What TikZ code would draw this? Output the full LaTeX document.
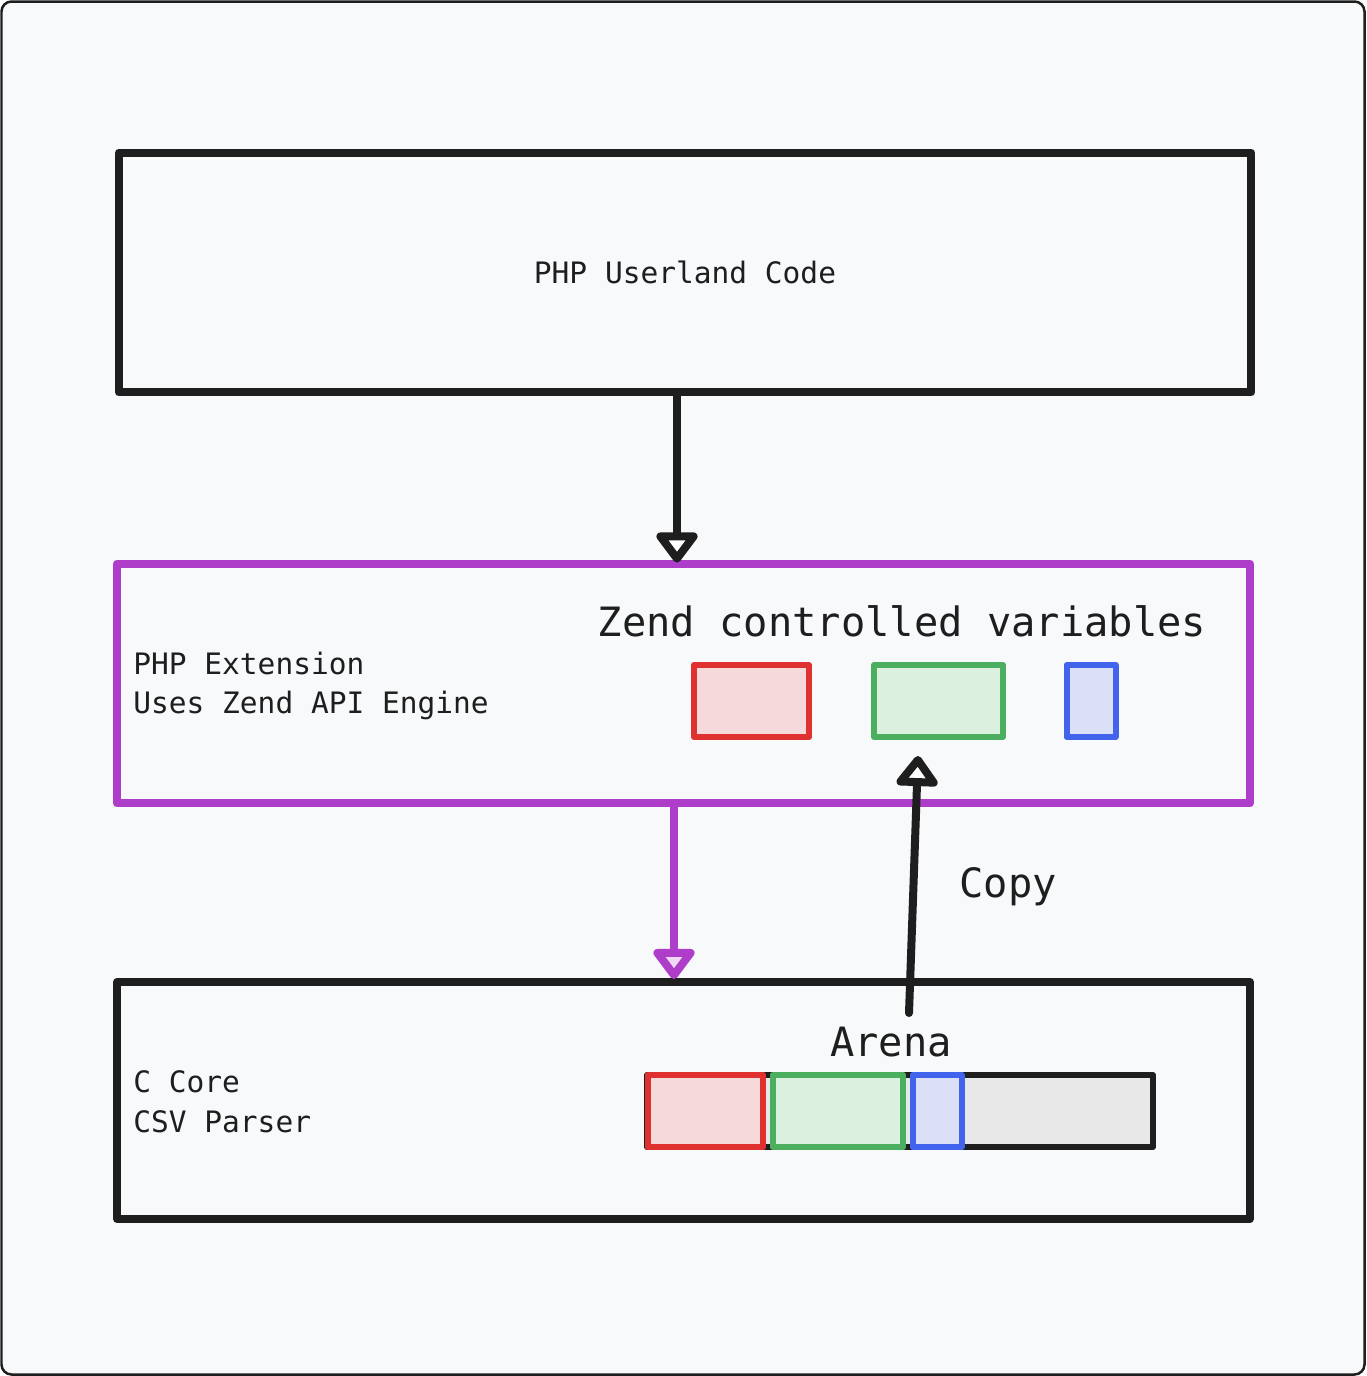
\documentclass[tikz,border=0pt]{standalone}
\usepackage{fontspec}
\setmonofont{DejaVu Sans Mono}
\usetikzlibrary{arrows.meta}
\definecolor{ink}{HTML}{1E1E1E}
\definecolor{canvas}{HTML}{F8F9FB}
\definecolor{extviolet}{HTML}{AE3EC9}
\definecolor{varred}{HTML}{E03131}
\definecolor{varredbg}{HTML}{F6D9DA}
\definecolor{vargreen}{HTML}{4CAF60}
\definecolor{vargreenbg}{HTML}{DCF0E0}
\definecolor{varblue}{HTML}{4263EB}
\definecolor{varbluebg}{HTML}{DCE0F6}
\definecolor{arenabg}{HTML}{E8E8E8}
\tikzset{
  small/.style={font=\ttfamily\fontsize{16.8}{22.7}\selectfont, text=ink},
  big/.style  ={font=\ttfamily\fontsize{23}{27}\selectfont, text=ink},
  layer/.style={rectangle, draw=ink, line width=0.16cm, line join=round,
                minimum width=22.66cm, minimum height=4.8cm, inner sep=0pt, small},
  slot/.style ={rectangle, line width=0.12cm, line join=round,
                minimum height=1.44cm, inner sep=0pt},
  redslot/.style  ={slot, draw=varred,   fill=varredbg},
  greenslot/.style={slot, draw=vargreen, fill=vargreenbg},
  blueslot/.style ={slot, draw=varblue,  fill=varbluebg},
  flow/.style ={draw=ink, line width=0.16cm, line cap=round,
                -{Triangle[fill=white, length=6.6mm, width=9.4mm, round]}},
  vflow/.style={flow, draw=extviolet,
                -{Triangle[fill=extviolet!20, length=6.6mm, width=9.4mm, round]}},
}
\begin{document}
\begin{tikzpicture}[x=0.02cm, y=-0.02cm]
\useasboundingbox (0,0) rectangle (1366,1376);
\draw[ink, fill=canvas, line width=0.05cm, rounded corners=0.2cm] (1.5,1.5) rectangle (1364.5,1374.5);
% layers
\node[layer] (user) at (685,272.5) {PHP Userland Code};
\node[layer, draw=extviolet] (ext) at (683.5,683.5) {};
\node[layer, minimum height=4.74cm] (core) at (683.5,1100.5) {};
\node[small, anchor=west, align=left, inner sep=0pt] (extlbl) at (133,686) {PHP Extension\\Uses Zend API Engine};
\node[small, anchor=west, align=left, inner sep=0pt] (corelbl) at (133,1102) {C Core\\CSV Parser};
% zend side
\node[big] (zendlbl) at (902,621) {Zend controlled variables};
\node[redslot,   minimum width=2.3cm]  (zred)   at (751.5,701) {};
\node[greenslot, minimum width=2.58cm] (zgreen) at (938.5,701) {};
\node[blueslot,  minimum width=0.98cm] (zblue)  at (1091,701) {};
% arena
\node[big] (arenalbl) at (891,1042) {Arena};
\node[slot, draw=ink, fill=arenabg, minimum width=10.12cm] (arena) at (900,1111) {};
\node[redslot,   minimum width=2.32cm] (ared)   at (705.5,1111) {};
\node[greenslot, minimum width=2.62cm] (agreen) at (838,1111) {};
\node[blueslot,  minimum width=0.98cm] (ablue)  at (937,1111) {};
% arrows
\draw[flow] (user.south) ++(-0.16cm,0) coordinate (callsrc) -- ([yshift=-0.06cm]callsrc |- ext.north);
\draw[vflow] (ext.south) ++(-0.19cm,0) coordinate (callsrc2) -- ([yshift=-0.02cm]callsrc2 |- core.north);
\coordinate (cpfrom) at (909,1013);
\draw[flow] (cpfrom) -- ([xshift=-0.41cm, yshift=-0.32cm]zgreen.south);
\node[big] (copylbl) at (1008,887) {Copy};
\end{tikzpicture}
\end{document}
